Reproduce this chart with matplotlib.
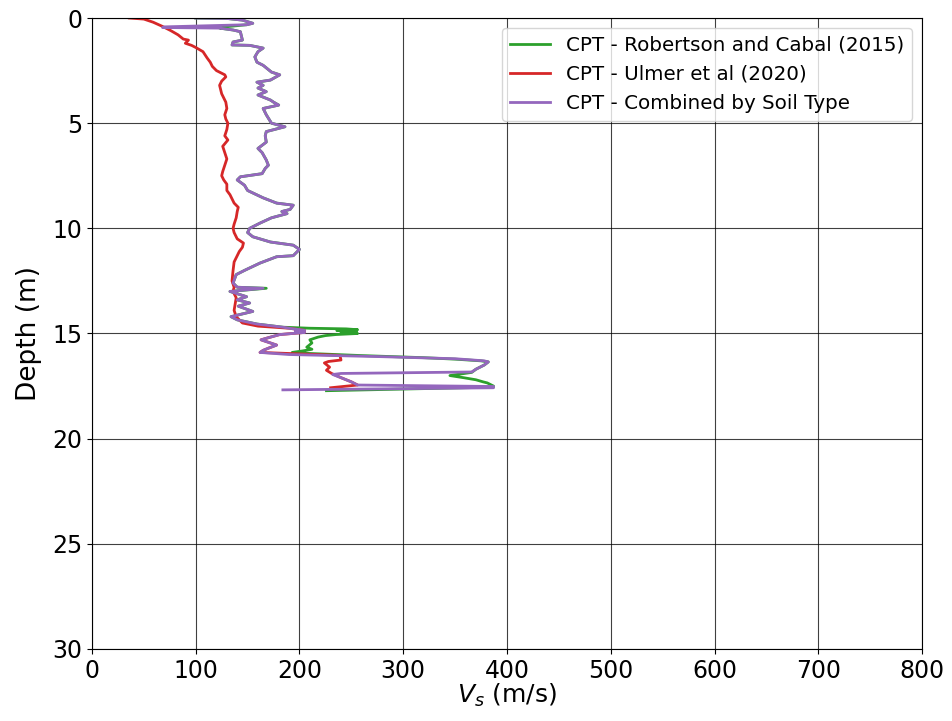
import matplotlib
matplotlib.use("Agg")
import matplotlib.pyplot as plt

# Shear-wave velocity profiles estimated from CPT sounding
# Robertson and Cabal (2015)
depth_rc = [0.0, 0.02, 0.1, 0.25, 0.32, 0.42, 0.48, 0.57, 0.65, 0.85, 1.05, 1.14, 1.28, 1.3,
            1.43, 1.6, 1.85, 2.1, 2.25, 2.57, 2.7, 2.95, 3.05, 3.2, 3.33, 3.5, 3.66, 3.9,
            4.0, 4.14, 4.3, 4.6, 5.0, 5.17, 5.4, 5.6, 5.9, 6.2, 6.4, 6.75, 7.0, 7.15, 7.4,
            7.55, 7.7, 7.95, 8.2, 8.55, 8.8, 8.9, 9.1, 9.2, 9.3, 9.5, 9.75, 10.0, 10.2,
            10.4, 10.65, 10.8, 11.0, 11.3, 11.35, 11.65, 12.0, 12.2, 12.6, 12.8, 12.85,
            13.0, 13.25, 13.4, 13.55, 13.7, 13.95, 14.2, 14.35, 14.55, 14.7, 14.75, 14.78,
            14.82, 14.86, 14.9, 14.95, 15.0, 15.05, 15.1, 15.17, 15.3, 15.45, 15.65, 15.75,
            15.83, 15.9, 15.95, 16.05, 16.15, 16.22, 16.3, 16.35, 16.5, 16.7, 16.85, 17.0,
            17.1, 17.2, 17.3, 17.35, 17.5, 17.55, 17.72]
vs_rc = [100, 130, 145, 155, 149, 128, 123, 136, 143, 144, 145, 136, 135, 152,
         165, 160, 157, 159, 165, 173, 181, 172, 159, 165, 160, 168, 160, 172,
         175, 180, 165, 168, 173, 186, 168, 167, 168, 160, 164, 168, 170, 167, 164,
         143, 140, 147, 150, 165, 178, 194, 191, 183, 188, 173, 162, 152, 150,
         155, 172, 194, 200, 194, 178, 162, 147, 139, 136, 140, 168,
         133, 149, 140, 152, 141, 155, 134, 140, 159, 184, 210, 245,
         256, 236, 255, 240, 256, 235, 225, 218, 210, 212, 207, 212,
         203, 193, 210, 260, 320, 350, 375, 382, 378, 370, 366, 345,
         358, 370, 377, 381, 387, 387, 226]

# Ulmer et al (2020)
depth_ul = [0.0, 0.05, 0.2, 0.4, 0.6, 0.8, 1.0, 1.05, 1.2, 1.3, 1.4, 1.6, 1.9, 2.1, 2.3,
            2.5, 2.6, 2.7, 2.8, 3.0, 3.2, 3.4, 3.6, 3.8, 4.0, 4.3, 4.6, 4.8, 5.0, 5.3,
            5.6, 5.8, 6.1, 6.4, 6.7, 7.0, 7.3, 7.5, 7.7, 7.9, 8.2, 8.4, 8.6, 8.8, 9.0,
            9.2, 9.5, 9.8, 10.0, 10.2, 10.5, 10.7, 10.9, 11.1, 11.3, 11.6, 12.0, 12.5,
            12.8, 13.0, 13.3, 13.6, 13.9, 14.2, 14.5, 14.65, 14.75, 14.85, 14.9, 14.95,
            15.05, 15.2, 15.3, 15.45, 15.55, 15.7, 15.8, 15.9, 16.04, 16.26, 16.33, 16.4,
            16.6, 16.75, 16.9, 17.1, 17.3, 17.45, 17.58]
vs_ul = [36, 50, 59, 68, 76, 83, 88, 93, 90, 96, 100, 107, 111, 114, 116,
         120, 124, 128, 129, 125, 123, 124, 125, 127, 129, 130, 128, 129, 131, 130,
         128, 131, 126, 128, 130, 128, 126, 125, 127, 130, 130, 133, 135, 137, 141,
         140, 139, 137, 136, 137, 140, 146, 145, 142, 140, 137, 136, 135,
         137, 136, 139, 138, 137, 139, 145, 160, 190, 205, 196, 205,
         181, 170, 163, 172, 178, 170, 165, 162, 239, 240, 228, 224,
         229, 226, 231, 240, 250, 256, 230]

# Combined by soil type
depth_cb = [0.0, 0.02, 0.1, 0.25, 0.32, 0.42, 0.45, 0.48, 0.57, 0.65, 0.85, 1.05, 1.14, 1.28,
            1.3, 1.43, 1.6, 1.85, 2.1, 2.25, 2.57, 2.7, 2.95, 3.05, 3.2, 3.33, 3.5, 3.66,
            3.9, 4.0, 4.14, 4.3, 4.6, 5.0, 5.17, 5.4, 5.6, 5.9, 6.2, 6.4, 6.75, 7.0, 7.15,
            7.4, 7.55, 7.7, 7.95, 8.2, 8.55, 8.8, 8.9, 9.1, 9.2, 9.3, 9.5, 9.75, 10.0,
            10.2, 10.4, 10.65, 10.8, 11.0, 11.3, 11.35, 11.65, 12.0, 12.2, 12.6, 12.8,
            12.85, 13.0, 13.25, 13.4, 13.55, 13.7, 13.95, 14.2, 14.35, 14.55, 14.7, 14.75,
            14.85, 14.9, 14.95, 15.05, 15.2, 15.3, 15.45, 15.55, 15.7, 15.8, 15.9, 16.0,
            16.1, 16.2, 16.3, 16.35, 16.5, 16.7, 16.83, 16.9, 16.95, 17.1, 17.3, 17.45,
            17.52, 17.58, 17.68]
vs_cb = [100, 130, 145, 155, 149, 70, 68, 123, 136, 143, 144, 145, 136, 135,
         152, 165, 160, 157, 159, 165, 173, 181, 172, 159, 165, 160, 168, 160,
         172, 175, 180, 165, 168, 173, 186, 168, 167, 168, 160, 164, 168, 170, 167,
         164, 143, 140, 147, 150, 165, 178, 194, 191, 183, 188, 173, 162, 152,
         150, 155, 172, 194, 200, 194, 178, 162, 147, 139, 136, 140,
         165, 133, 149, 140, 152, 141, 155, 134, 140, 159, 184, 190,
         205, 196, 205, 181, 170, 163, 172, 178, 170, 165, 162, 190,
         278, 350, 378, 382, 378, 370, 366, 240, 232, 240, 250, 256,
         387, 387, 184]

fig = plt.figure(figsize=(9.53, 7.21), dpi=100)
ax = fig.add_axes([0.0965, 0.0999, 0.871, 0.8751])

lw = 2.0
ax.plot(vs_rc, depth_rc, color="#2ca02c", lw=lw, label="CPT - Robertson and Cabal (2015)")
ax.plot(vs_ul, depth_ul, color="#d62728", lw=lw, label="CPT - Ulmer et al (2020)")
ax.plot(vs_cb, depth_cb, color="#9467bd", lw=lw, label="CPT - Combined by Soil Type")

ax.set_xlim(0, 800)
ax.set_ylim(30, 0)
ax.set_xticks(range(0, 801, 100))
ax.set_yticks(range(0, 31, 5))
ax.grid(True, color="black", lw=0.8, alpha=0.75)
ax.tick_params(labelsize=17)
ax.set_xlabel("$V_s$ (m/s)", fontsize=18, labelpad=-1)
ax.set_ylabel("Depth (m)", fontsize=19, labelpad=7)
ax.legend(loc="upper right", fontsize=14.3, handlelength=2.0)

fig.savefig("out.png", dpi=100)
